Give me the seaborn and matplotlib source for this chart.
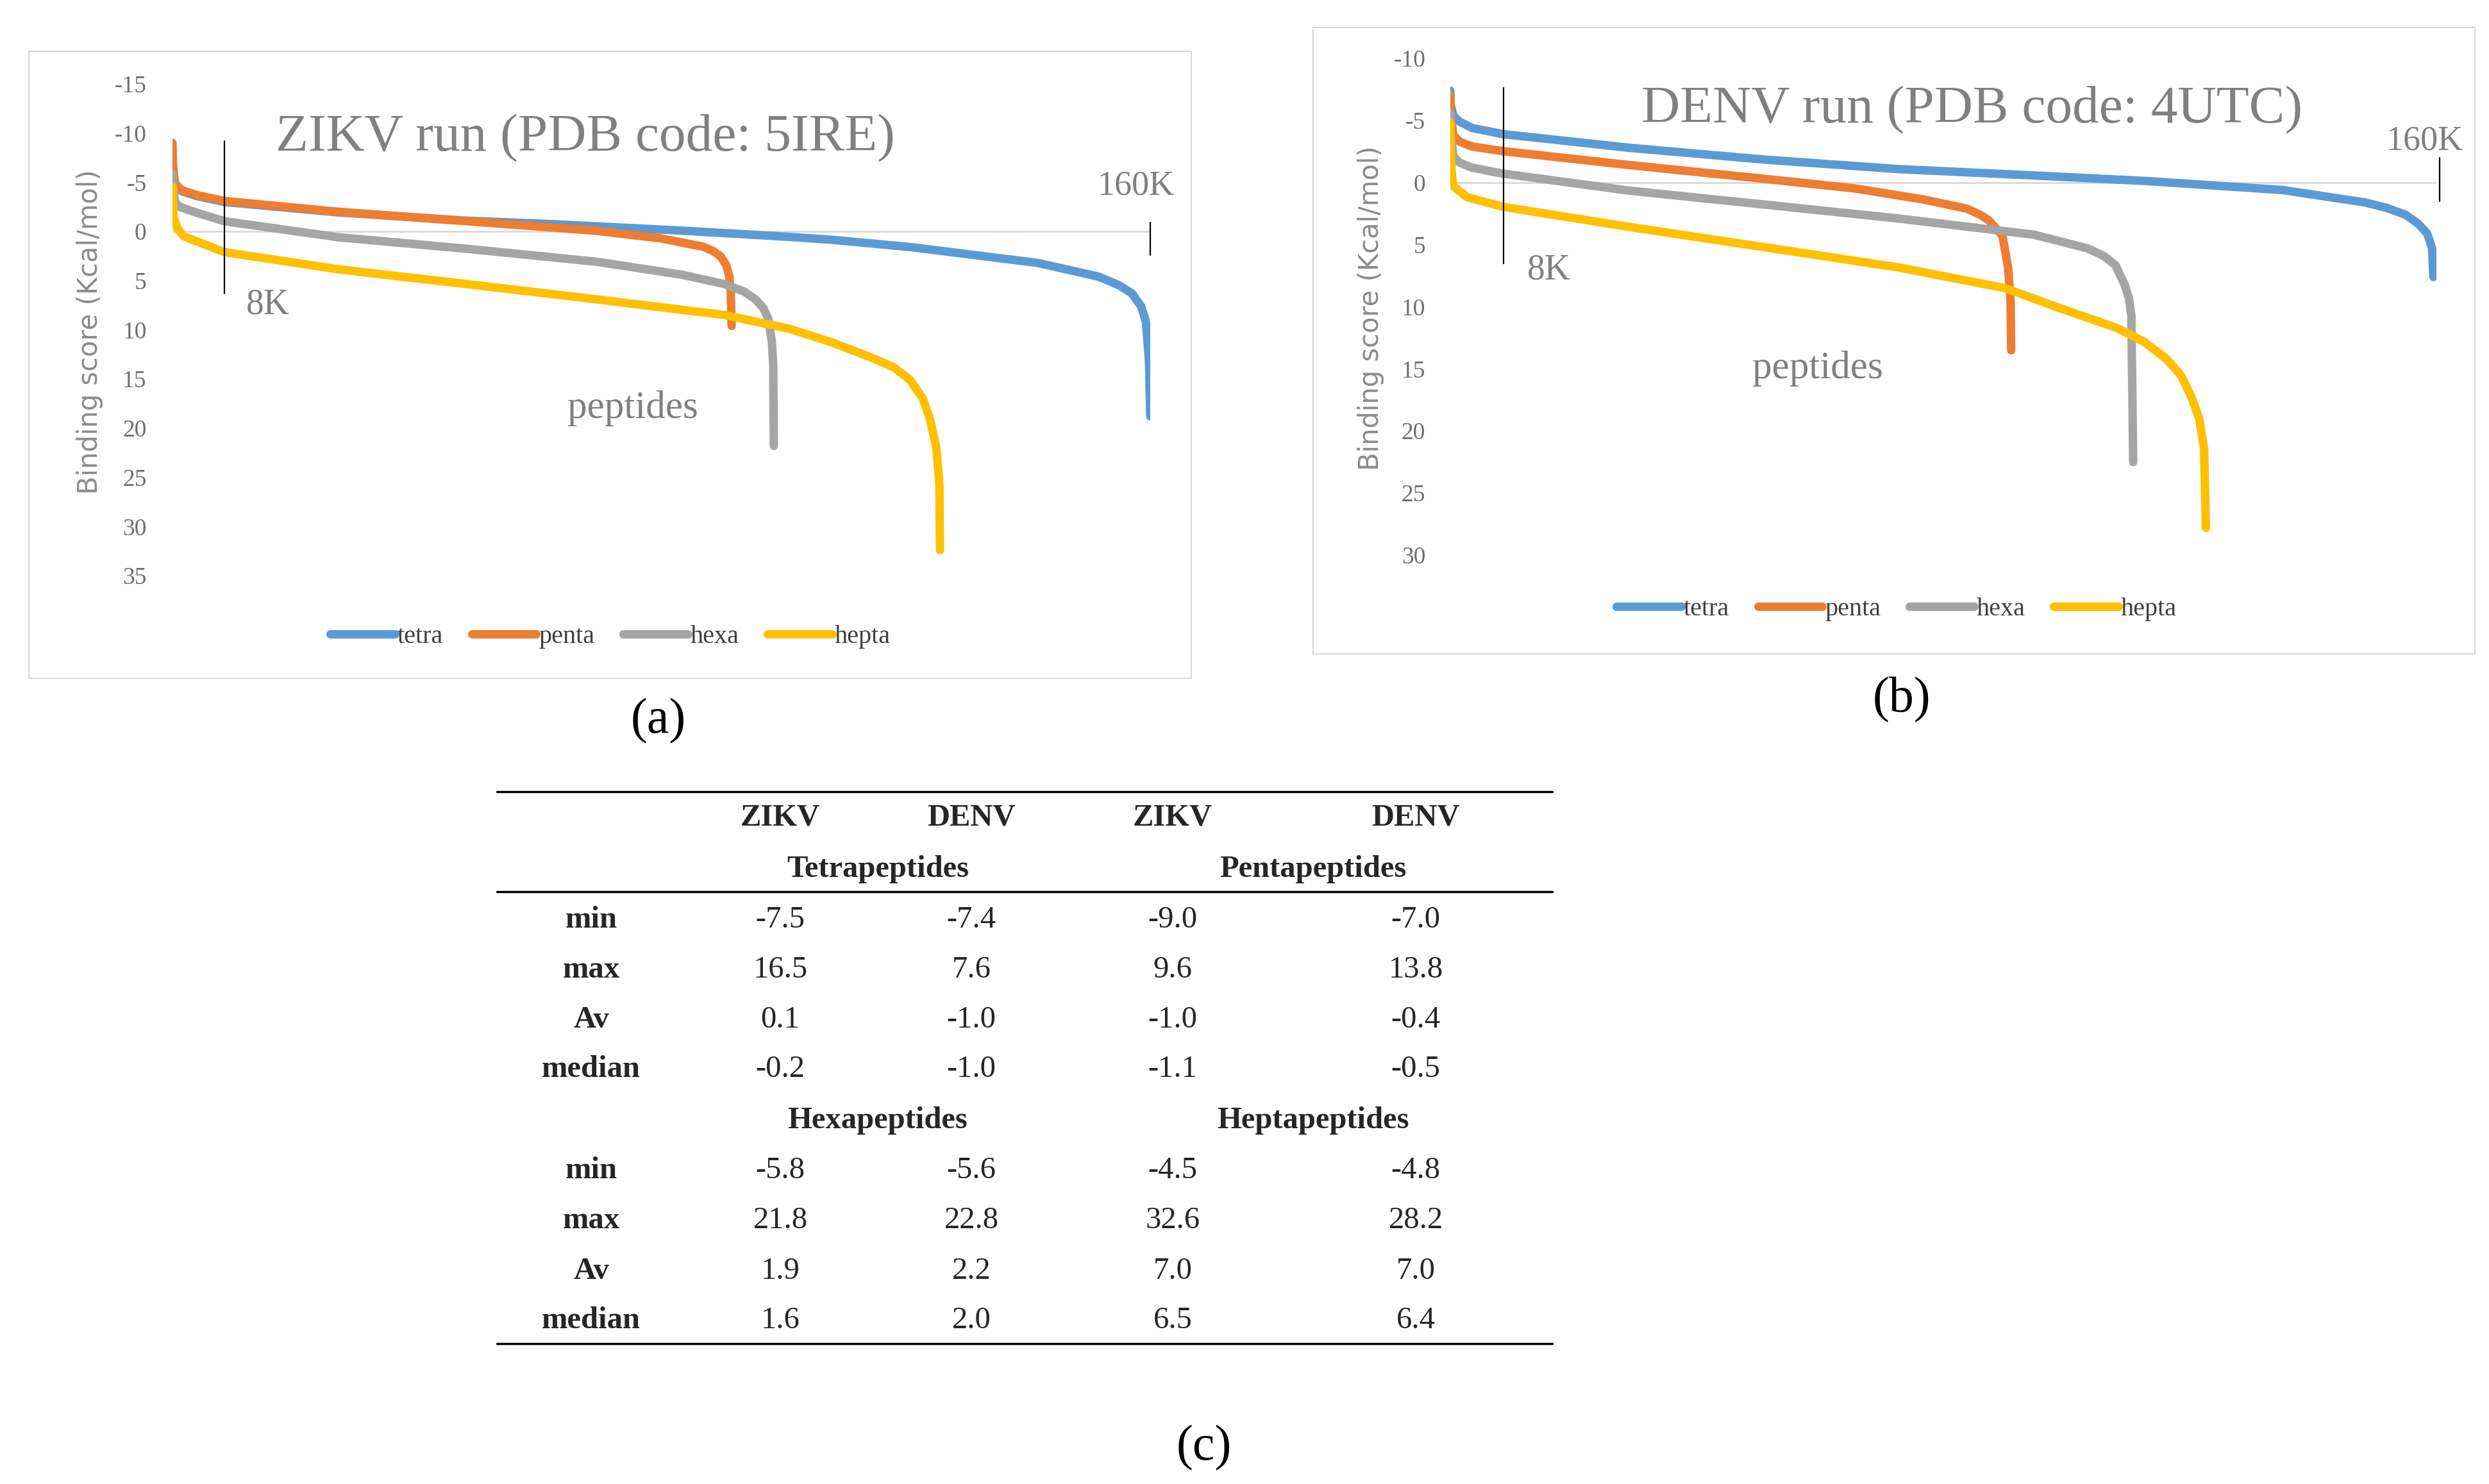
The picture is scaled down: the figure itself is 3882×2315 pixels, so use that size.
import pandas as pd
import matplotlib
matplotlib.use("Agg")
import matplotlib.pyplot as plt
import seaborn as sns
from matplotlib.lines import Line2D
from matplotlib.patches import Rectangle

W, H = 3882, 2315

series_names = ['tetra', 'penta', 'hexa', 'hepta']
series_colors = ['#5B9BD5', '#ED7D31', '#A5A5A5', '#FFC000']

# ZIKV run: peptide rank (thousands) vs sorted binding score (Kcal/mol)
zikv_tetra_rank = [0, 0.1, 0.5, 1.5, 4, 8.5, 27, 48, 62, 83, 101, 108, 121, 141.6, 151.6, 155, 157, 158.5, 159.3, 159.8, 160]
zikv_tetra_score = [-7.5, -6.0, -4.8, -4.1, -3.6, -3.0, -1.95, -1.1, -0.75, -0.1, 0.55, 0.85, 1.6, 3.2, 4.6, 5.5, 6.3, 7.6, 9.2, 13.2, 18.8]
zikv_penta_rank = [0, 0.1, 0.4, 1.5, 4, 8.5, 27.2, 48.3, 69.4, 79.9, 86.9, 88.5, 89.7, 90.6, 91.1, 91.35, 91.5]
zikv_penta_score = [-9.0, -6.5, -4.9, -4.2, -3.7, -3.1, -2.0, -1.04, -0.07, 0.7, 1.56, 2.0, 2.54, 3.4, 4.5, 6.0, 9.6]
zikv_hexa_rank = [0, 0.1, 0.4, 1.2, 4, 8.5, 27.2, 48.3, 69.4, 83.4, 90.4, 93.5, 95.4, 96.7, 97.5, 98.1, 98.3, 98.4]
zikv_hexa_score = [-5.8, -4.5, -3.0, -2.5, -1.9, -1.04, 0.59, 1.77, 3.08, 4.4, 5.36, 6.1, 6.9, 7.8, 8.9, 11.3, 13.5, 21.8]
zikv_hepta_rank = [0, 0.05, 0.2, 0.8, 1.9, 8.5, 27.2, 48.3, 69.4, 90.4, 101, 108, 114.7, 118, 120.7, 122.8, 124, 125, 125.5, 125.6]
zikv_hepta_score = [-4.5, -3.0, -1.4, -0.3, 0.5, 2.1, 3.85, 5.36, 6.9, 8.5, 9.9, 11.3, 12.9, 13.8, 15.1, 17.0, 19.2, 22.0, 25.7, 32.4]

# DENV run
denv_tetra_rank = [0, 0.05, 0.5, 1.5, 3.5, 8.5, 29, 50.9, 72.8, 94.7, 113, 135, 148.4, 152, 155, 157, 158.5, 159.3, 159.5]
denv_tetra_score = [-7.4, -6.3, -5.36, -4.9, -4.4, -3.9, -2.8, -1.85, -1.08, -0.57, -0.12, 0.6, 1.6, 2.05, 2.6, 3.3, 4.1, 5.3, 7.6]
denv_penta_rank = [0, 0.05, 0.5, 1.5, 3.5, 8.5, 29, 50.9, 65.6, 76.5, 83.8, 86, 87.4, 89.6, 90.5, 90.9, 91.0]
denv_penta_score = [-7.0, -5.5, -3.8, -3.3, -2.9, -2.53, -1.41, -0.3, 0.47, 1.34, 2.1, 2.6, 3.05, 4.3, 6.85, 9.5, 13.5]
denv_hexa_rank = [0, 0.05, 0.5, 1.5, 3.5, 8.5, 29, 50.9, 72.8, 94.7, 103.4, 106, 107.9, 109.4, 110.1, 110.5, 110.8]
denv_hexa_score = [-5.6, -4.0, -2.1, -1.6, -1.2, -0.72, 0.65, 1.77, 2.9, 4.2, 5.3, 5.9, 6.65, 8.2, 9.3, 10.7, 22.5]
denv_hepta_rank = [0, 0.05, 0.2, 0.5, 2.7, 8.5, 29, 50.9, 72.8, 90, 99.4, 108.1, 112.5, 116.2, 118.5, 120.2, 121.5, 122.3, 122.6]
denv_hepta_score = [-4.8, -2.8, -0.9, 0.3, 1.17, 1.95, 3.57, 5.2, 6.84, 8.5, 10.2, 11.7, 12.8, 14.2, 15.5, 17.2, 19.0, 21.4, 27.8]

zikv_ticks = [-15, -10, -5, 0, 5, 10, 15, 20, 25, 30, 35]
denv_ticks = [-10, -5, 0, 5, 10, 15, 20, 25, 30]

# summary table (c)
table_cols = ['ZIKV', 'DENV', 'ZIKV', 'DENV']
table_stats = ['min', 'max', 'Av', 'median']
group_top = ['Tetrapeptides', 'Pentapeptides']
group_bottom = ['Hexapeptides', 'Heptapeptides']
tetra_zikv = ['-7.5', '16.5', '0.1', '-0.2']
tetra_denv = ['-7.4', '7.6', '-1.0', '-1.0']
penta_zikv = ['-9.0', '9.6', '-1.0', '-1.1']
penta_denv = ['-7.0', '13.8', '-0.4', '-0.5']
hexa_zikv = ['-5.8', '21.8', '1.9', '1.6']
hexa_denv = ['-5.6', '22.8', '2.2', '2.0']
hepta_zikv = ['-4.5', '32.6', '7.0', '6.5']
hepta_denv = ['-4.8', '28.2', '7.0', '6.4']


def make_df(ranks, scores):
    rows = []
    for name, r, s in zip(series_names, ranks, scores):
        for x, y in zip(r, s):
            rows.append({'rank': x, 'score': y, 'series': name})
    return pd.DataFrame(rows)


zikv_df = make_df([zikv_tetra_rank, zikv_penta_rank, zikv_hexa_rank, zikv_hepta_rank],
                  [zikv_tetra_score, zikv_penta_score, zikv_hexa_score, zikv_hepta_score])
denv_df = make_df([denv_tetra_rank, denv_penta_rank, denv_hexa_rank, denv_hepta_rank],
                  [denv_tetra_score, denv_penta_score, denv_hexa_score, denv_hepta_score])

sns.set_style("white")
plt.rcParams['font.family'] = ['Liberation Serif', 'DejaVu Serif']

fig = plt.figure(figsize=(W / 100, H / 100), dpi=100)


def fx(x):
    return x / W


def fy(y):
    return 1 - y / H


def panel(df, box, frame, ticks, title, title_xy, eight_line, eight_xy, k160_line, k160_xy,
          pep_xy, ylabel_xy, legend_xy, tick_pad):
    l, t, r, b = box
    ax = fig.add_axes([fx(l), fy(b), fx(r - l), (b - t) / H])
    fl, ft, fr, fb = frame
    fig.add_artist(Rectangle((fx(fl), fy(fb)), fx(fr - fl), (fb - ft) / H, transform=fig.transFigure,
                             fill=False, edgecolor='#d9d9d9', lw=1.5))
    ax.axhline(0, color='#d9d9d9', lw=2, zorder=0)
    sns.lineplot(data=df, x='rank', y='score', hue='series', hue_order=series_names,
                 palette=series_colors, estimator=None, sort=False, lw=9.5,
                 solid_capstyle='round', solid_joinstyle='round', ax=ax)
    ax.set_xlim(0, 160)
    ax.set_ylim(ticks[-1], ticks[0])
    ax.set_yticks(ticks)
    ax.set_yticklabels([str(v) for v in ticks])
    ax.set_xticks([])
    ax.set_xlabel('')
    ax.set_ylabel('')
    ax.tick_params(axis='y', length=0, pad=tick_pad, labelsize=27, labelcolor='#6f6f6f')
    for s in ax.spines.values():
        s.set_visible(False)
    ax.patch.set_alpha(0)
    # rank markers
    ax.plot([eight_line[0], eight_line[0]], eight_line[1:], color='black', lw=1.6, clip_on=False)
    ax.plot([k160_line[0], k160_line[0]], k160_line[1:], color='black', lw=1.6, clip_on=False)
    fig.text(fx(title_xy[0]), fy(title_xy[1]), title, ha='center', va='center', fontsize=60, color='#808080')
    fig.text(fx(eight_xy[0]), fy(eight_xy[1]), '8K', ha='left', va='center', fontsize=40, color='#808080')
    fig.text(fx(k160_xy[0]), fy(k160_xy[1]), '160K', ha='center', va='center', fontsize=39, color='#808080')
    fig.text(fx(pep_xy[0]), fy(pep_xy[1]), 'peptides', ha='center', va='center', fontsize=44, color='#808080')
    fig.text(fx(ylabel_xy[0]), fy(ylabel_xy[1]), 'Binding score (Kcal/mol)', rotation=90,
             ha='center', va='center', fontsize=30, color='#8c8c8c', family=['DejaVu Sans'])
    handles, labels = ax.get_legend_handles_labels()
    ax.legend(handles, labels, loc='center', bbox_to_anchor=(fx(legend_xy[0]), fy(legend_xy[1])),
              bbox_transform=fig.transFigure, ncol=4, frameon=False, fontsize=29,
              handlelength=2.5, handletextpad=0.1, columnspacing=1.1, labelcolor='#404040')
    return ax


panel(zikv_df, (269, 131, 1794, 898), (45, 80, 1858, 1058), zikv_ticks,
      'ZIKV run (PDB code: 5IRE)', (913, 216), (8.5, -9.2, 6.3), (384, 476),
      (160, -0.9, 2.4), (1771, 290), (987, 637), (140, 518), (952, 993), 29)
panel(denv_df, (2262, 91, 3800, 866), (2048, 43, 3860, 1020), denv_ticks,
      'DENV run (PDB code: 4UTC)', (3076, 172), (8.6, -7.6, 6.5), (2382, 421),
      (160.5, -2.0, 1.5), (3781, 220), (2835, 575), (2138, 481), (2958, 950), 28)

fig.text(fx(1027), fy(1125), '(a)', ha='center', va='center', fontsize=56, color='black')
fig.text(fx(2966), fy(1092), '(b)', ha='center', va='center', fontsize=56, color='black')
fig.text(fx(1878), fy(2259), '(c)', ha='center', va='center', fontsize=56, color='black')

# table (c)
tab_l, tab_r = 775, 2421
for y in [1235, 1391, 2096]:
    fig.add_artist(Line2D([fx(tab_l), fx(tab_r)], [fy(y), fy(y)], color='black', lw=2.5,
                          transform=fig.transFigure))

label_x = 922
col_x = [1217, 1515, 1829, 2208]
group_x = [1369, 2048]
fs = 35

for x, c in zip(col_x, table_cols):
    fig.text(fx(x), fy(1276), c, ha='center', va='center', fontsize=fs, weight='bold')
for x, g in zip(group_x, group_top):
    fig.text(fx(x), fy(1356), g, ha='center', va='center', fontsize=fs, weight='bold')
for x, g in zip(group_x, group_bottom):
    fig.text(fx(x), fy(1748), g, ha='center', va='center', fontsize=fs, weight='bold')

top_rows = [1435, 1513, 1591, 1668]
bottom_rows = [1826, 1904, 1983, 2060]
for rows, cols in [(top_rows, [tetra_zikv, tetra_denv, penta_zikv, penta_denv]),
                   (bottom_rows, [hexa_zikv, hexa_denv, hepta_zikv, hepta_denv])]:
    for i, y in enumerate(rows):
        fig.text(fx(label_x), fy(y), table_stats[i], ha='center', va='center', fontsize=fs, weight='bold')
        for x, col in zip(col_x, cols):
            fig.text(fx(x), fy(y), col[i], ha='center', va='center', fontsize=fs)

fig.savefig('out.png', dpi=100, facecolor='white')
